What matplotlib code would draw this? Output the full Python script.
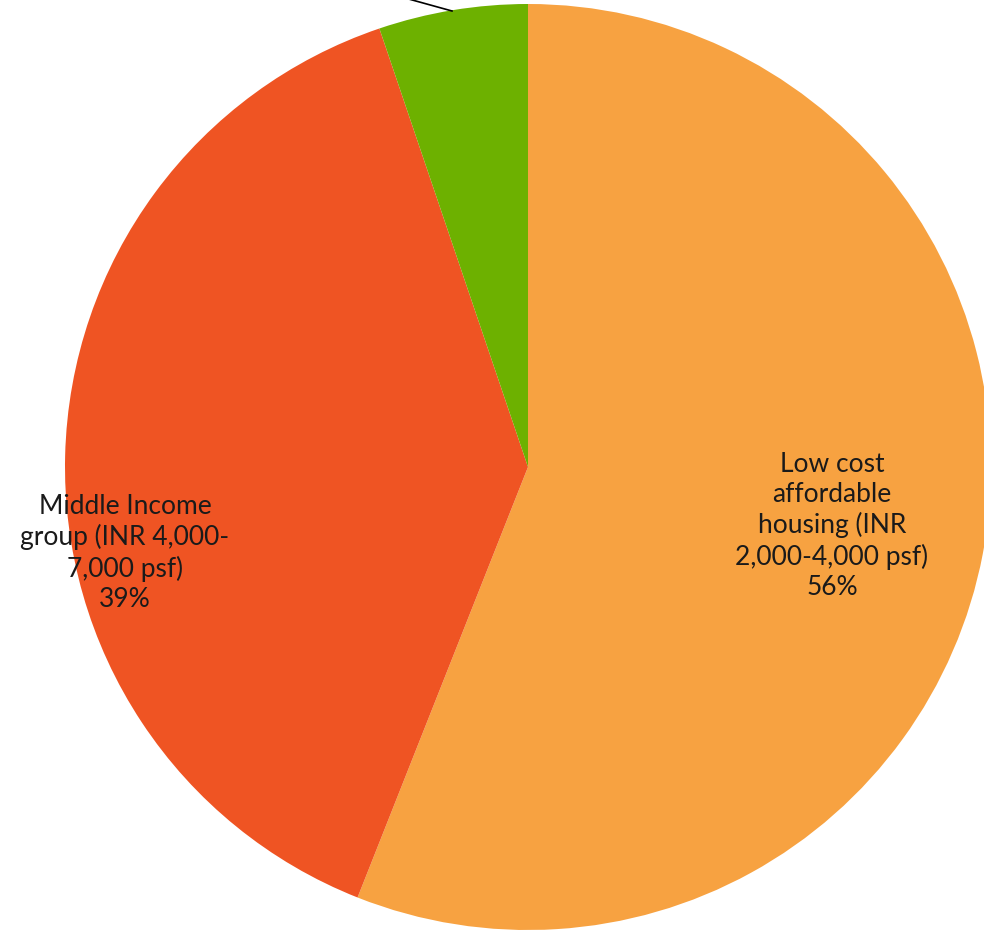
import matplotlib.pyplot as plt

# slice data (clockwise from the top)
labels = ["Low cost\naffordable\nhousing (INR\n2,000-4,000 psf)", "Middle Income\ngroup (INR 4,000-\n7,000 psf)", "Premium"]
shares = [56.0, 38.8, 5.2]
colors = ["#F7A241", "#EF5423", "#6DB100"]

W, H = 984, 933
fig = plt.figure(figsize=(W / 100, H / 100), dpi=100)
ax = fig.add_axes([0, 0, 1, 1])

cx, cy, r = 528, H - 467, 463
ax.pie(shares, colors=colors, startangle=90, counterclock=False,
       center=(cx, cy), radius=r, frame=True,
       wedgeprops=dict(linewidth=0))
ax.set_xlim(0, W)
ax.set_ylim(0, H)
ax.set_aspect("equal")
ax.axis("off")

font = dict(family=["Lato", "DejaVu Sans"], fontsize=19, color="#1a1a1a",
            ha="center", va="center", linespacing=1.25)
ax.text(832, H - 526, labels[0] + "\n%d%%" % round(shares[0]), **font)
ax.text(125, H - 553, labels[1] + "\n%d%%" % round(shares[1]), **font)

# leader line of the small slice, its label sits above the visible area
ax.plot([452, 405], [H - 11, H + 2], color="black", lw=1.2, clip_on=False)

fig.savefig("out.png", dpi=100)
